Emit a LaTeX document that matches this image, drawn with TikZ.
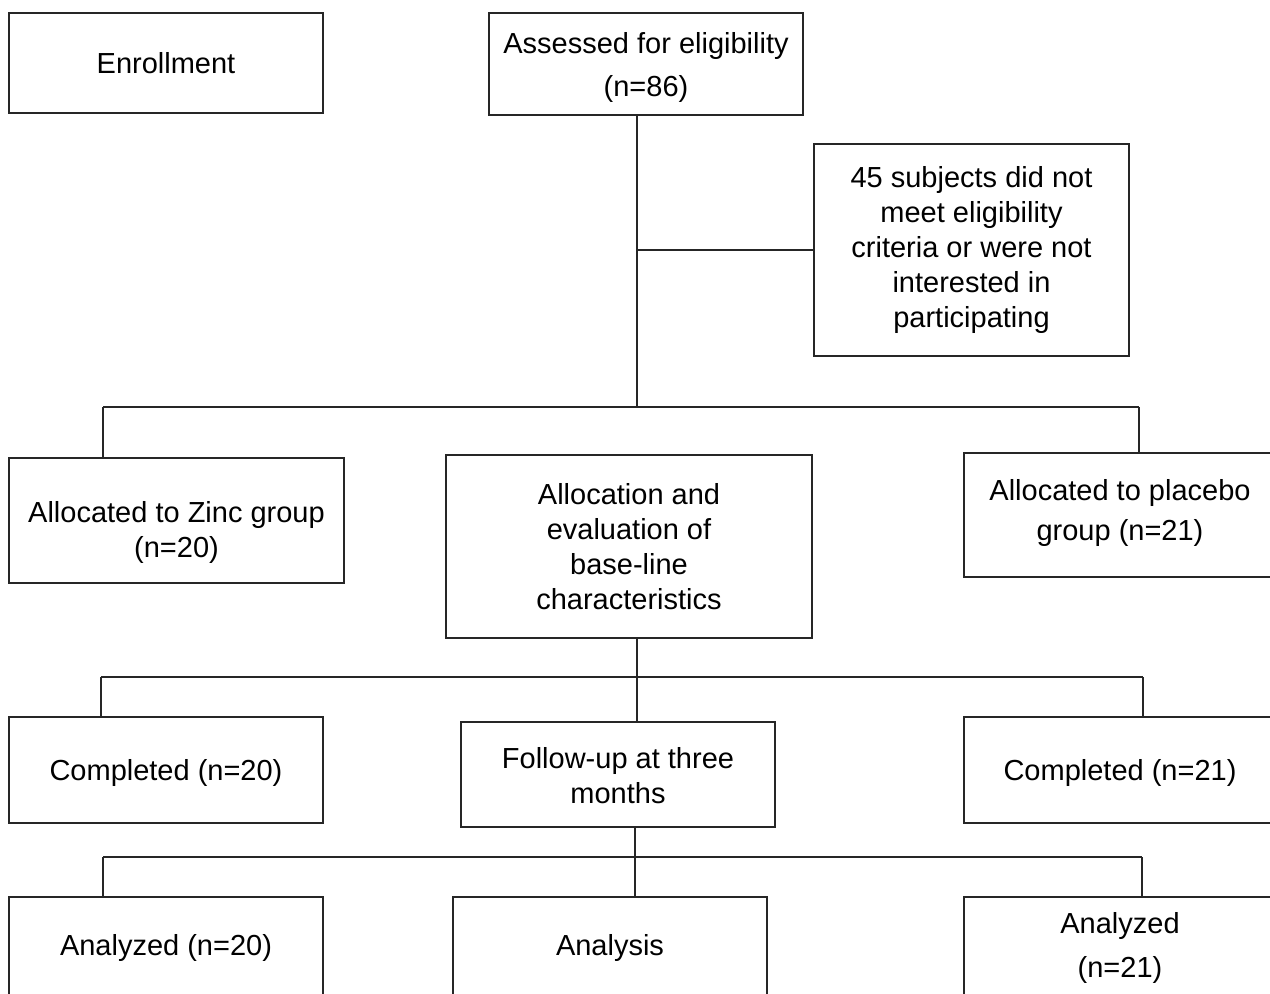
\documentclass[tikz,border=0pt]{standalone}
\usepackage{fontspec}
\setmainfont{Liberation Sans}
\begin{document}
\begin{tikzpicture}[x=0.5pt,y=-0.5pt,
  box/.style={draw=black!85, line width=0.7pt, align=center, inner sep=0pt,
    font=\fontsize{14.5}{17.5}\selectfont},
  txt/.style={align=center, inner sep=0pt, font=\fontsize{14.5}{17.5}\selectfont},
  wide/.style={font=\fontsize{14.5}{21.8}\selectfont},
  mid/.style={font=\fontsize{14.5}{20}\selectfont},
  conn/.style={draw=black!85, line width=0.7pt}]
\useasboundingbox (0,0) rectangle (1270,994);
\clip (0,0) rectangle (1270,994);
% boxes
\node[box, minimum width=157pt, minimum height=50pt] (enr) at (166,63) {Enrollment};
\node[box, minimum width=157pt, minimum height=51pt] (ass) at (646,64) {};
\node[txt, wide] (asst) at (646,67.5) {Assessed for eligibility\\(n=86)};
\node[box, minimum width=157.5pt, minimum height=106pt] (subj) at (971.5,250) {45 subjects did not\\meet eligibility\\criteria or were not\\interested in\\participating};
\node[box, minimum width=167.5pt, minimum height=62.5pt] (zinc) at (176.5,520.5) {};
\node[txt] (zinct) at (176.5,532.5) {Allocated to Zinc group\\(n=20)};
\node[box, minimum width=183pt, minimum height=91.5pt] (alloc) at (629,546.5) {Allocation and\\evaluation of\\base-line\\characteristics};
\node[box, minimum width=156pt, minimum height=62pt] (plac) at (1120,515) {};
\node[txt, mid] (plact) at (1120,513.5) {Allocated to placebo\\group (n=21)};
\node[box, minimum width=157pt, minimum height=53pt] (comp1) at (166,770) {};
\node[txt] (comp1t) at (166,773) {Completed (n=20)};
\node[box, minimum width=157pt, minimum height=52.5pt] (fol) at (618,774.5) {};
\node[txt] (folt) at (618,776) {Follow-up at three\\months};
\node[box, minimum width=156pt, minimum height=53pt] (comp2) at (1120,770) {};
\node[txt] (comp2t) at (1120,773) {Completed (n=21)};
\node[box, minimum width=157pt, minimum height=50pt] (an1) at (166,947) {};
\node[txt] (an1t) at (166,948) {Analyzed (n=20)};
\node[box, minimum width=157pt, minimum height=50pt] (ana) at (610,947) {};
\node[txt] (anat) at (610,948) {Analysis};
\node[box, minimum width=156pt, minimum height=50pt] (an2) at (1120,947) {};
\node[txt, wide] (an2t) at (1120,948) {Analyzed\\(n=21)};
% junction coordinates
\coordinate (j1) at (637,407);
\coordinate (j1s) at (637,250);
\coordinate (j1l) at (103,407);
\coordinate (j1r) at (1139,407);
\coordinate (j2) at (637,677);
\coordinate (j2l) at (101,677);
\coordinate (j2r) at (1143,677);
\coordinate (j3) at (635,857);
\coordinate (j3l) at (103,857);
\coordinate (j3r) at (1142,857);
% connectors
\draw[conn] (ass.south -| j1) -- (j1);
\draw[conn] (j1s) -- (subj.west |- j1s);
\draw[conn] (j1l) -- (j1r);
\draw[conn] (j1l) -- (zinc.north -| j1l);
\draw[conn] (j1r) -- (plac.north -| j1r);
\draw[conn] (alloc.south -| j2) -- (fol.north -| j2);
\draw[conn] (j2l) -- (j2r);
\draw[conn] (j2l) -- (comp1.north -| j2l);
\draw[conn] (j2r) -- (comp2.north -| j2r);
\draw[conn] (fol.south -| j3) -- (ana.north -| j3);
\draw[conn] (j3l) -- (j3r);
\draw[conn] (j3l) -- (an1.north -| j3l);
\draw[conn] (j3r) -- (an2.north -| j3r);
\end{tikzpicture}
\end{document}
